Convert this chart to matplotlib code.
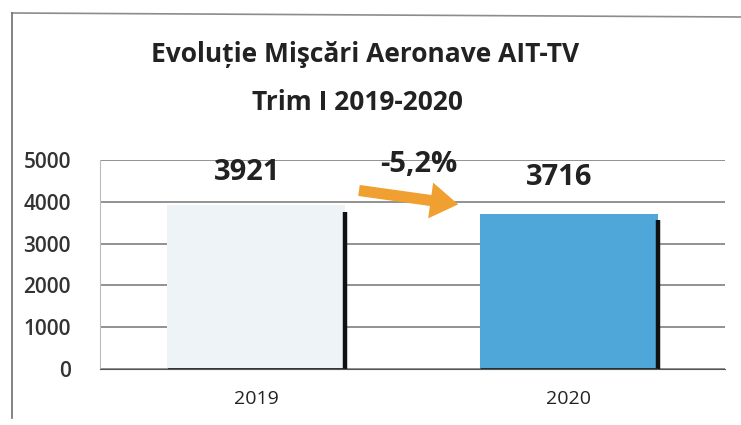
import matplotlib.pyplot as plt
from matplotlib.lines import Line2D

# data
years = ["2019", "2020"]
values = [3921, 3716]
change_label = "-5,2%"
yticks = [0, 1000, 2000, 3000, 4000, 5000]
bar_colors = ["#edf3f7", "#4fa6d8"]

plt.rcParams['font.family'] = ['Open Sans', 'DejaVu Sans']

fig = plt.figure(figsize=(7.41, 4.25), dpi=100)

# scanned frame around the chart
fig.add_artist(Line2D([12/741, 1.0], [1 - 13/425, 1 - 17/425], color="#8c8c8c", lw=1.2))
fig.add_artist(Line2D([12/741, 12/741], [1 - 13/425, 1 - 418/425], color="#6e6e6e", lw=1.2))

ax = fig.add_axes([100/741, (425-369)/425, 625/741, 209/425])

x = list(range(len(years)))
w = 0.57
ax.bar(x, values, width=w, color=bar_colors, edgecolor="none", zorder=2)

# dark "3d" side / bottom edges of the bars
for xi, v in zip(x, values):
    ax.vlines(xi + w/2, 0, v * 0.96, color="#111111", lw=3.2, zorder=3)
    ax.hlines(0, xi - w/2, xi + w/2, color="#222222", lw=2, zorder=3)

# value labels
label_y = [4690, 4570]
for xi, v, ly in zip(x, values, label_y):
    ax.text(xi - 0.03, ly, str(v), ha="center", va="center",
            fontsize=21, fontweight="bold", color="#222222", zorder=4)

# arrow + percentage
ax.annotate("", xy=(0.655, 3930), xytext=(0.32, 4280),
            arrowprops=dict(arrowstyle="simple,head_width=2.6,head_length=2.0,tail_width=0.8",
                            color="#f0a030", lw=0), zorder=4)
ax.text(0.52, 4900, change_label, ha="center", va="center",
        fontsize=21, fontweight="bold", color="#222222", zorder=4)

ax.set_xlim(-0.5, 1.5)
ax.set_ylim(0, 5000)
ax.set_yticks(yticks)
ax.set_yticklabels([str(t) for t in yticks], fontsize=15, fontweight="semibold", color="#333333")
ax.set_xticks(x)
ax.set_xticklabels(years, fontsize=14, color="#222222")
ax.tick_params(axis="both", length=0)
ax.tick_params(axis="y", pad=21)
ax.tick_params(axis="x", pad=15)
ax.yaxis.grid(True, color="#7f7f7f", lw=1.2, zorder=0)
ax.set_axisbelow(True)
for s in ["top", "right"]:
    ax.spines[s].set_visible(False)
ax.spines["left"].set_color("#bbbbbb")
ax.spines["bottom"].set_color("#555555")

fig.text(365/741, 1 - 55/425, "Evoluție Mişcări Aeronave AIT-TV", ha="center", va="center",
         fontsize=19, fontweight="bold", color="#222222")
fig.text(358/741, 1 - 103/425, "Trim I 2019-2020", ha="center", va="center",
         fontsize=19, fontweight="bold", color="#222222")

plt.savefig("out.png", dpi=100)
